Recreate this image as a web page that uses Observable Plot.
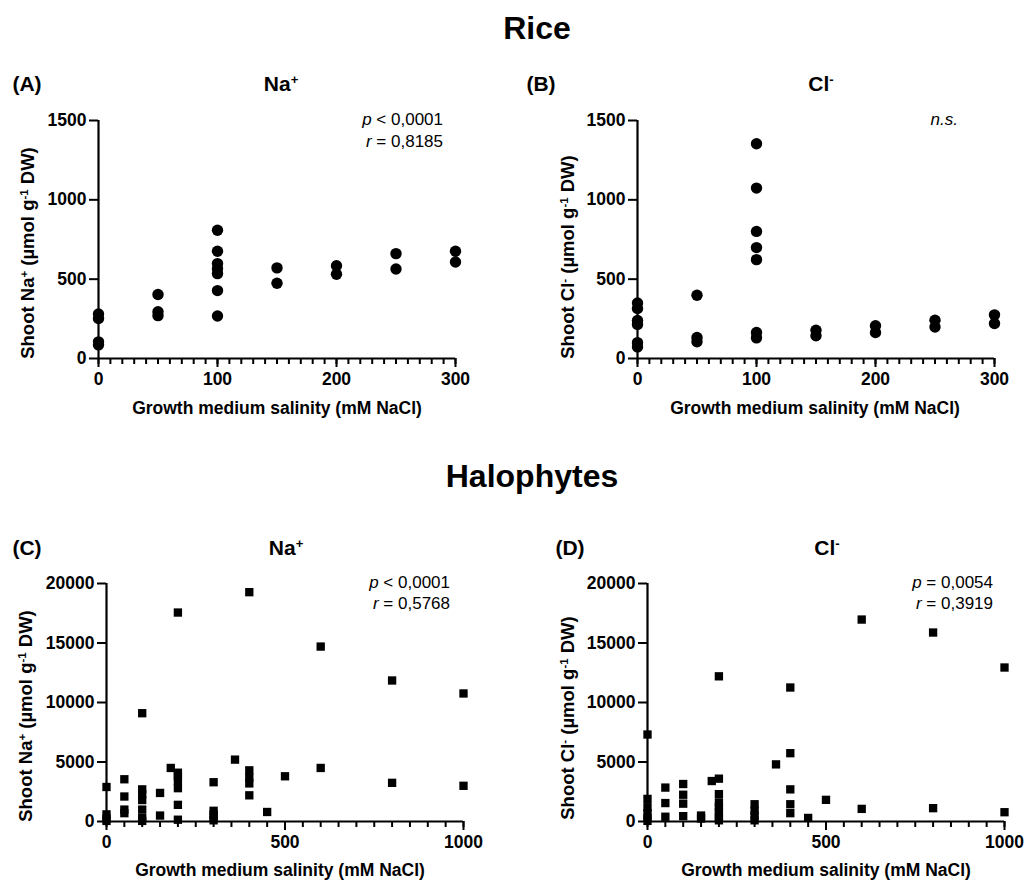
<!DOCTYPE html>
<html><head><meta charset="utf-8">
<script src="https://cdn.jsdelivr.net/npm/d3@7"></script>
<script src="https://cdn.jsdelivr.net/npm/@observablehq/plot@0.6"></script>
<style>
body{margin:0;background:#fff;font-family:"Liberation Sans",Arial,Helvetica,sans-serif;color:#000}
#root{position:relative;width:1031px;height:888px;overflow:hidden;background:#fff}
.t{position:absolute;white-space:nowrap;line-height:1}
.b{font-weight:bold}
sup{font-size:0.62em;vertical-align:0;position:relative;top:-0.55em;line-height:0}
</style></head><body><div id="root"></div>
<script>
// ---------- data ----------
const riceNaX = [0,0,0,0, 50,50,50, 100,100,100,100,100,100,100, 150,150, 200,200, 250,250, 300,300];
const riceNaY = [280,252,105,86, 403,295,270, 808,676,598,566,535,428,268, 571,474, 585,531, 661,564, 676,608];

const riceClX = [0,0,0,0,0,0, 50,50,50, 100,100,100,100,100,100,100, 150,150, 200,200, 250,250, 300,300];
const riceClY = [350,315,240,215,100,73, 399,132,105, 1353,1074,801,699,623,164,130, 178,143, 206,164, 241,199, 275,220];

const haloNaX = [0,0,0,0, 50,50,50,50, 100,100,100,100,100,100,100, 150,150, 180, 200,200,200,200,200,200,200, 300,300,300,300,300, 360, 400,400,400,400,400, 450, 500, 600,600, 800,800, 1000,1000];
const haloNaY = [2900,600,250,50, 3550,2100,1000,700, 9100,2700,2300,1800,1000,300,50, 2400,500, 4500, 17560,4100,3800,3400,2800,1400,150, 3300,900,600,300,100, 5200, 19270,4300,3700,3200,2200, 800, 3800, 14700,4500, 11850,3250, 10760,3000];

const haloClX = [0,0,0,0,0,0, 50,50,50, 100,100,100,100, 150,150, 180, 200,200,200,200,200,200,200,200, 300,300,300,300, 360, 400,400,400,400,400, 450, 500, 600,600, 800,800, 1000,1000];
const haloClY = [7310,1900,1200,700,300,50, 2850,1550,400, 3150,2250,1500,450, 500,250, 3400, 12200,3600,2300,1600,1200,800,400,100, 1450,900,500,100, 4800, 11260,5740,2700,1450,700, 300, 1820, 16970,1060, 15880,1120, 12940,780];

const riceXTicks = [0,100,200,300];
const riceXMinor = d3.range(0,301,10);
const riceYTicks = [0,500,1000,1500];
const haloXTicks = [0,500,1000];
const haloXMinor = d3.range(0,1001,50);
const haloYTicks = [0,5000,10000,15000,20000];

// ---------- helpers ----------
const root = document.getElementById("root");
const FONT = '"Liberation Sans", Arial, Helvetica, sans-serif';

function rows(xs, ys){ return xs.map((x,i)=>({x, y: ys[i]})); }

function panel(o){
  const svg = Plot.plot({
    width: o.width, height: o.height,
    marginLeft: o.ml, marginRight: o.mr, marginTop: o.mt, marginBottom: o.mb,
    x: {domain: o.xDomain, axis: null},
    y: {domain: o.yDomain, axis: null},
    style: {fontFamily: FONT, fontSize: "17.5px", fontWeight: "bold", color: "#000", background: "transparent", overflow: "visible"},
    marks: [
      Plot.axisX({ticks: o.xMinor, tickSize: 6, tickFormat: () => "", strokeWidth: 2, label: null}),
      Plot.axisX({ticks: o.xTicks, tickSize: 9, tickPadding: 5, tickFormat: d => String(d), strokeWidth: 2, label: null}),
      Plot.axisY({ticks: o.yTicks, tickSize: 9, tickPadding: 3, tickFormat: d => String(d), strokeWidth: 2, label: null}),
      Plot.ruleY([o.yDomain[0]], {strokeWidth: 2.2}),
      Plot.ruleX([o.xDomain[0]], {strokeWidth: 2.2}),
      Plot.dot(o.data, {x: "x", y: "y", symbol: o.symbol, r: o.r, fill: "#000", stroke: "none"})
    ]
  });
  svg.style.position = "absolute";
  svg.style.left = o.left + "px";
  svg.style.top = o.top + "px";
  root.appendChild(svg);
}

function txt(html, x, y, opts = {}){
  const d = document.createElement("div");
  d.className = "t" + (opts.bold ? " b" : "");
  d.innerHTML = html;
  d.style.left = x + "px";
  d.style.top = y + "px";
  d.style.fontSize = (opts.size || 16) + "px";
  if (opts.italic) d.style.fontStyle = "italic";
  const ax = opts.anchor === "end" ? "-100%" : opts.anchor === "start" ? "0" : "-50%";
  d.style.transform = `translate(${ax},-50%)` + (opts.rotate ? " rotate(-90deg)" : "");
  root.appendChild(d);
}

// ---------- panels ----------
panel({left: 0, top: 100, width: 480, height: 298, ml: 98, mr: 25, mt: 20, mb: 40,
  xDomain: [0,300], yDomain: [0,1500], xTicks: riceXTicks, xMinor: riceXMinor, yTicks: riceYTicks,
  data: rows(riceNaX, riceNaY), symbol: "circle", r: 5.7});
panel({left: 520, top: 100, width: 500, height: 298, ml: 117, mr: 26, mt: 20, mb: 40,
  xDomain: [0,300], yDomain: [0,1500], xTicks: riceXTicks, xMinor: riceXMinor, yTicks: riceYTicks,
  data: rows(riceClX, riceClY), symbol: "circle", r: 5.7});
panel({left: 0, top: 560, width: 490, height: 301, ml: 106, mr: 27, mt: 23, mb: 40,
  xDomain: [0,1000], yDomain: [0,20000], xTicks: haloXTicks, xMinor: haloXMinor, yTicks: haloYTicks,
  data: rows(haloNaX, haloNaY), symbol: "square", r: 4.7});
panel({left: 520, top: 560, width: 511, height: 301, ml: 127, mr: 27, mt: 23, mb: 40,
  xDomain: [0,1000], yDomain: [0,20000], xTicks: haloXTicks, xMinor: haloXMinor, yTicks: haloYTicks,
  data: rows(haloClX, haloClY), symbol: "square", r: 4.7});

// ---------- texts ----------
txt("Rice", 537, 28, {bold: true, size: 32});
txt("Halophytes", 532, 476, {bold: true, size: 32});

txt("(A)", 27, 83, {bold: true, size: 21});
txt("Na<sup>+</sup>", 281, 83, {bold: true, size: 21});
txt("(B)", 541, 83, {bold: true, size: 21});
txt("Cl<sup>-</sup>", 821, 83, {bold: true, size: 21});
txt("(C)", 27, 547, {bold: true, size: 21});
txt("Na<sup>+</sup>", 286, 547, {bold: true, size: 21});
txt("(D)", 570, 547, {bold: true, size: 21});
txt("Cl<sup>-</sup>", 827, 547, {bold: true, size: 21});

txt("<i>p</i> &lt; 0,0001", 443, 119, {anchor: "end", size: 17});
txt("<i>r</i> = 0,8185", 443, 141, {anchor: "end", size: 17});
txt("n.s.", 958, 119, {anchor: "end", size: 17, italic: true});
txt("<i>p</i> &lt; 0,0001", 450, 582, {anchor: "end", size: 17});
txt("<i>r</i> = 0,5768", 450, 603, {anchor: "end", size: 17});
txt("<i>p</i> = 0,0054", 993, 582, {anchor: "end", size: 17});
txt("<i>r</i> = 0,3919", 993, 603, {anchor: "end", size: 17});

const xl = "Growth medium salinity (mM NaCl)";
txt(xl, 277, 409, {bold: true, size: 17.5});
txt(xl, 815, 409, {bold: true, size: 17.5});
txt(xl, 280, 871, {bold: true, size: 17.5});
txt(xl, 826, 871, {bold: true, size: 17.5});

txt("Shoot Na<sup>+</sup> (µmol g<sup>-1</sup> DW)", 28, 253, {bold: true, size: 18.5, rotate: true});
txt("Shoot Cl<sup>-</sup> (µmol g<sup>-1</sup> DW)", 568, 257, {bold: true, size: 18.5, rotate: true});
txt("Shoot Na<sup>+</sup> (µmol g<sup>-1</sup> DW)", 26, 716, {bold: true, size: 18.5, rotate: true});
txt("Shoot Cl<sup>-</sup> (µmol g<sup>-1</sup> DW)", 568, 718, {bold: true, size: 18.5, rotate: true});
</script></body></html>
